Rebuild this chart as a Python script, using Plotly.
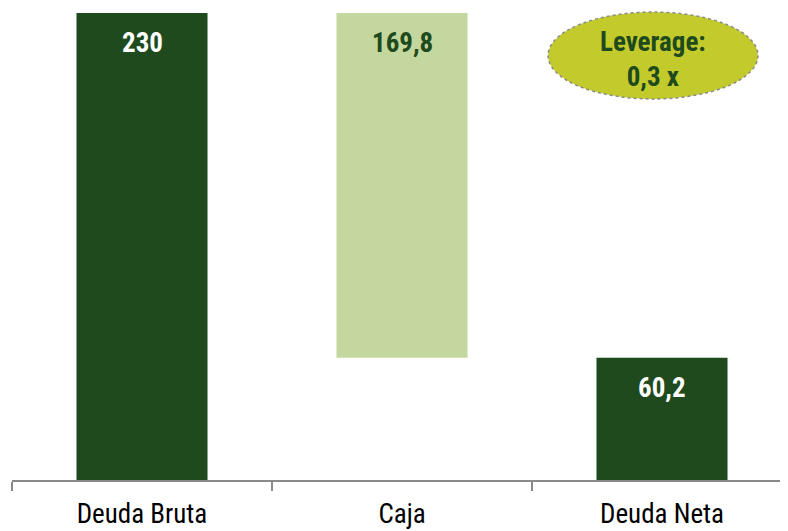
import plotly.graph_objects as go

categories = ["Deuda Bruta", "Caja", "Deuda Neta"]
values = [230, 169.8, 60.2]
bases = [0, 60.2, 0]
value_labels = ["230", "169,8", "60,2"]
bar_colors = ["#1f4a1d", "#c4d79e", "#1f4a1d"]
label_colors = ["white", "#1f4a1d", "white"]
leverage_text = "Leverage:<br>0,3 x"

FONT = "Liberation Sans Narrow, Arial Narrow, Roboto Condensed, Arial, sans-serif"

fig = go.Figure()
fig.add_trace(go.Bar(
    x=categories, y=values, base=bases,
    marker=dict(color=bar_colors, line=dict(width=0)),
    width=0.504, hoverinfo="skip", showlegend=False,
))

for c, v, b, t, col in zip(categories, values, bases, value_labels, label_colors):
    fig.add_annotation(x=c, y=v + b, text=f"<b>{t}</b>", showarrow=False,
                       yanchor="middle", yshift=-30,
                       font=dict(family=FONT, size=27, color=col))

# Leverage ellipse
fig.add_shape(type="circle", xref="paper", yref="paper",
              x0=0.6837, x1=0.9515, y0=0.816, y1=1.002,
              fillcolor="#c2cb2b", line=dict(color="#8a8a8a", width=1.5, dash="dot"),
              layer="above")
fig.add_annotation(xref="paper", yref="paper", x=0.8176, y=0.901,
                   text=f"<b>{leverage_text}</b>", showarrow=False,
                   xanchor="center", yanchor="middle",
                   font=dict(family=FONT, size=27, color="#1f4a1d"))

fig.update_layout(
    width=788, height=531,
    margin=dict(l=4, r=0, t=5, b=59),
    paper_bgcolor="white", plot_bgcolor="white",
    font=dict(family=FONT, size=27, color="black"),
    xaxis=dict(type="category", range=[-0.5, 2.5154],
               showline=True, linecolor="#8a8a8a", linewidth=2,
               ticks="outside", tickson="boundaries", ticklen=9,
               tickcolor="#8a8a8a", tickwidth=2,
               ticklabelstandoff=9,
               tickfont=dict(family=FONT, size=27, color="black"),
               showgrid=False, zeroline=False, automargin=False),
    yaxis=dict(range=[0, 230], visible=False, showgrid=False, zeroline=False),
)

fig.write_html("out.html")
